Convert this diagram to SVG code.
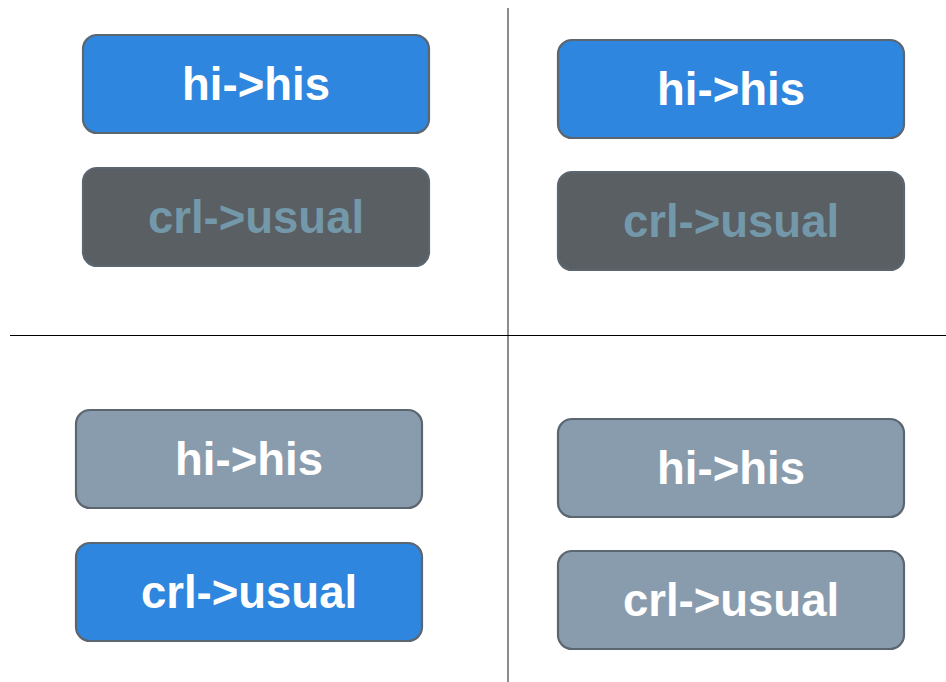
<svg xmlns="http://www.w3.org/2000/svg" width="946" height="682" viewBox="0 0 946 682">
  <style>
    .btn { stroke: #5b6670; stroke-width: 2.2; }
    .on { fill: #2e86de; }
    .dark { fill: #5a5f63; }
    .off { fill: #899cae; }
    .lbl { font-family: "Liberation Sans", Arial, sans-serif; font-weight: bold; font-size: 45.5px; text-anchor: middle; fill: #ffffff; }
    .dim { fill: #7398aa; }
  </style>
  <rect width="946" height="682" fill="#ffffff"/>

  <!-- quadrant dividers -->
  <g id="dividers">
    <line x1="508" y1="8" x2="508" y2="682" stroke="#666666" stroke-width="1.5"/>
    <line x1="10" y1="335.5" x2="946" y2="335.5" stroke="#000000" stroke-width="1"/>
  </g>

  <!-- top-left -->
  <g id="tl-hi">
    <rect class="btn on" x="83" y="35" width="346" height="98" rx="14"/>
    <text class="lbl" x="256" y="100">hi-&gt;his</text>
  </g>
  <g id="tl-crl">
    <rect class="btn dark" x="83" y="168" width="346" height="98" rx="14"/>
    <text class="lbl dim" x="256" y="233">crl-&gt;usual</text>
  </g>

  <!-- top-right -->
  <g id="tr-hi">
    <rect class="btn on" x="558" y="40" width="346" height="98" rx="14"/>
    <text class="lbl" x="731" y="105">hi-&gt;his</text>
  </g>
  <g id="tr-crl">
    <rect class="btn dark" x="558" y="172" width="346" height="98" rx="14"/>
    <text class="lbl dim" x="731" y="237">crl-&gt;usual</text>
  </g>

  <!-- bottom-left -->
  <g id="bl-hi">
    <rect class="btn off" x="76" y="410" width="346" height="98" rx="14"/>
    <text class="lbl" x="249" y="475">hi-&gt;his</text>
  </g>
  <g id="bl-crl">
    <rect class="btn on" x="76" y="543" width="346" height="98" rx="14"/>
    <text class="lbl" x="249" y="608">crl-&gt;usual</text>
  </g>

  <!-- bottom-right -->
  <g id="br-hi">
    <rect class="btn off" x="558" y="419" width="346" height="98" rx="14"/>
    <text class="lbl" x="731" y="484">hi-&gt;his</text>
  </g>
  <g id="br-crl">
    <rect class="btn off" x="558" y="551" width="346" height="98" rx="14"/>
    <text class="lbl" x="731" y="616">crl-&gt;usual</text>
  </g>
</svg>
